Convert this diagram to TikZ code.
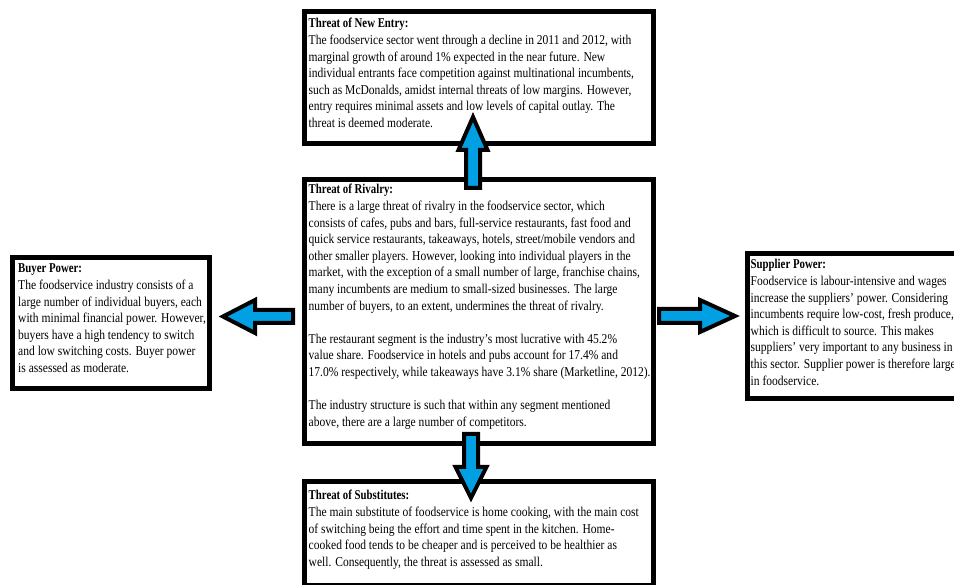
\documentclass[tikz,border=0pt]{standalone}
\usepackage{fontspec}
\setmainfont{Liberation Serif}[FakeStretch=0.855]
\newfontfamily\titlefont{Liberation Serif Bold}[FakeStretch=0.8]
\definecolor{arrowblue}{RGB}{0,160,227}
\tikzset{
  box/.style={draw=black, line width=4.5pt, fill=white, inner sep=0pt, anchor=north west},
  txt/.style={anchor=base west, inner sep=0pt, font=\fontsize{13.5}{16.6}\selectfont},
  blockarrow/.style={draw=black, line width=4pt, fill=arrowblue, line join=miter},
}
\newcommand{\ttl}[1]{{\titlefont #1}}
\begin{document}
\begin{tikzpicture}[x=1pt, y=-1pt]
\clip (0,0) rectangle (954,585);
\fill[white] (0,0) rectangle (954,585);
% boxes
\node[box, minimum width=349pt, minimum height=132pt] (topbox) at (302.25,9.25) {};
\node[box, minimum width=349pt, minimum height=264pt] (midbox) at (302.25,177.25) {};
\node[box, minimum width=349pt, minimum height=104pt] (botbox) at (302.25,479.25) {};
\node[box, minimum width=197pt, minimum height=131pt] (leftbox) at (10.25,255.25) {};
\node[box, minimum width=240pt, minimum height=145pt] (rightbox) at (745.25,251.25) {};
% texts
\node[txt] (toptext) at (308.5,28) {\begin{tabular}[t]{@{}l@{}}
\ttl{Threat of New Entry:}\\
The foodservice sector went through a decline in 2011 and 2012, with\\
marginal growth of around 1\% expected in the near future. New\\
individual entrants face competition against multinational incumbents,\\
such as McDonalds, amidst internal threats of low margins. However,\\
entry requires minimal assets and low levels of capital outlay. The\\
threat is deemed moderate.
\end{tabular}};
\node[txt] (midtext) at (308.5,194) {\begin{tabular}[t]{@{}l@{}}
\ttl{Threat of Rivalry:}\\
There is a large threat of rivalry in the foodservice sector, which\\
consists of cafes, pubs and bars, full-service restaurants, fast food and\\
quick service restaurants, takeaways, hotels, street/mobile vendors and\\
other smaller players. However, looking into individual players in the\\
market, with the exception of a small number of large, franchise chains,\\
many incumbents are medium to small-sized businesses. The large\\
number of buyers, to an extent, undermines the threat of rivalry.\\
\\
The restaurant segment is the industry’s most lucrative with 45.2\%\\
value share. Foodservice in hotels and pubs account for 17.4\% and\\
17.0\% respectively, while takeaways have 3.1\% share (Marketline, 2012).\\
\\
The industry structure is such that within any segment mentioned\\
above, there are a large number of competitors.
\end{tabular}};
\node[txt] (bottext) at (308.5,500) {\begin{tabular}[t]{@{}l@{}}
\ttl{Threat of Substitutes:}\\
The main substitute of foodservice is home cooking, with the main cost\\
of switching being the effort and time spent in the kitchen. Home-\\
cooked food tends to be cheaper and is perceived to be healthier as\\
well. Consequently, the threat is assessed as small.
\end{tabular}};
\node[txt] (lefttext) at (18,273) {\begin{tabular}[t]{@{}l@{}}
\ttl{Buyer Power:}\\
The foodservice industry consists of a\\
large number of individual buyers, each\\
with minimal financial power. However,\\
buyers have a high tendency to switch\\
and low switching costs. Buyer power\\
is assessed as moderate.
\end{tabular}};
\node[txt] (righttext) at (750.5,269) {\begin{tabular}[t]{@{}l@{}}
\ttl{Supplier Power:}\\
Foodservice is labour-intensive and wages\\
increase the suppliers’ power. Considering\\
incumbents require low-cost, fresh produce,\\
which is difficult to source. This makes\\
suppliers’ very important to any business in\\
this sector. Supplier power is therefore large\\
in foodservice.
\end{tabular}};
% block arrows
\draw[blockarrow] (473,117) -- (487.5,150) -- (480,150) -- (480,188) -- (466,188) -- (466,150) -- (458.5,150) -- cycle;
\draw[blockarrow] (471,498) -- (486.5,467) -- (478,467) -- (478,434) -- (464,434) -- (464,467) -- (455.5,467) -- cycle;
\draw[blockarrow] (223,316.5) -- (255,300) -- (255,310) -- (293,310) -- (293,323) -- (255,323) -- (255,333) -- cycle;
\draw[blockarrow] (735,316) -- (700,300) -- (700,309) -- (659,309) -- (659,323) -- (700,323) -- (700,332) -- cycle;
\end{tikzpicture}
\end{document}
